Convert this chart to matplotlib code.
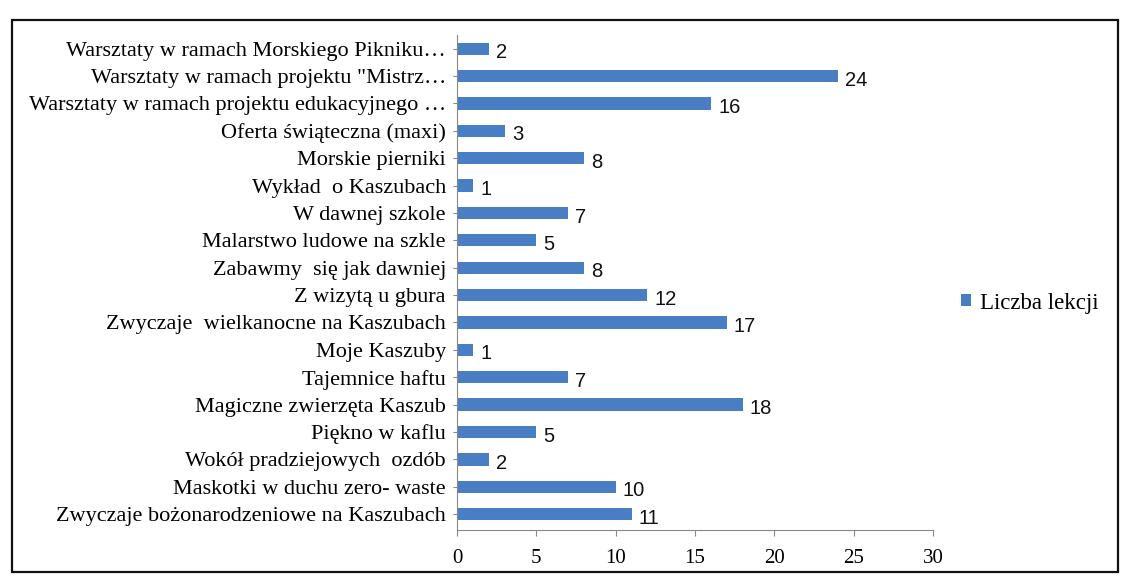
import matplotlib
matplotlib.use("Agg")
import matplotlib.pyplot as plt
from matplotlib.patches import Rectangle

categories = [
    "Warsztaty w ramach Morskiego Pikniku…",
    "Warsztaty w ramach projektu \"Mistrz…",
    "Warsztaty w ramach projektu edukacyjnego …",
    "Oferta świąteczna (maxi)",
    "Morskie pierniki",
    "Wykład  o Kaszubach",
    "W dawnej szkole",
    "Malarstwo ludowe na szkle",
    "Zabawmy  się jak dawniej",
    "Z wizytą u gbura",
    "Zwyczaje  wielkanocne na Kaszubach",
    "Moje Kaszuby",
    "Tajemnice haftu",
    "Magiczne zwierzęta Kaszub",
    "Piękno w kaflu",
    "Wokół pradziejowych  ozdób",
    "Maskotki w duchu zero- waste",
    "Zwyczaje bożonarodzeniowe na Kaszubach",
]
values = [2, 24, 16, 3, 8, 1, 7, 5, 8, 12, 17, 1, 7, 18, 5, 2, 10, 11]
series_name = "Liczba lekcji"
xticks = [0, 5, 10, 15, 20, 25, 30]

bar_color = "#4a7ec4"
serif = "Liberation Serif"
sans = "Liberation Sans"

fig = plt.figure(figsize=(11.33, 5.83), dpi=100)
fig.patch.set_facecolor("white")

# outer frame
fig.add_artist(Rectangle((12/1133, 1-572/583), (1118-12)/1133, (572-20)/583,
                         transform=fig.transFigure, fill=False, lw=1.6, ec="#111111"))

ax = fig.add_axes([457/1133, 1-530/583, (933-457)/1133, (530-35)/583])
y = list(range(len(categories)))
ax.barh(y, values, height=0.45, color=bar_color, label=series_name)
ax.set_ylim(len(categories) - 0.42, -0.5)
ax.set_xlim(0, 30)
ax.set_xticks(xticks)
ax.set_xticklabels([str(t) for t in xticks], fontfamily=serif, fontsize=15)
ax.set_yticks(y)
ax.set_yticklabels(categories, fontfamily=serif, fontsize=16)
for yi, v in zip(y, values):
    ax.text(v + 0.45, yi + 0.15, str(v), va="center", ha="left",
            fontfamily=sans, fontsize=14.5, color="#111111")

for s in ["top", "right"]:
    ax.spines[s].set_visible(False)
ax.spines["left"].set_color("#888888")
ax.spines["bottom"].set_color("#888888")
ax.tick_params(axis="x", length=4, color="#888888", pad=10)
ax.tick_params(axis="y", length=3, color="#888888", pad=5)

fig.legend(loc="center left", bbox_to_anchor=(940/1133, 1-303/583),
           frameon=False, prop={"family": serif, "size": 16.5},
           handlelength=0.45, handleheight=0.45, handletextpad=0.4)

fig.savefig("out.png", dpi=100)
